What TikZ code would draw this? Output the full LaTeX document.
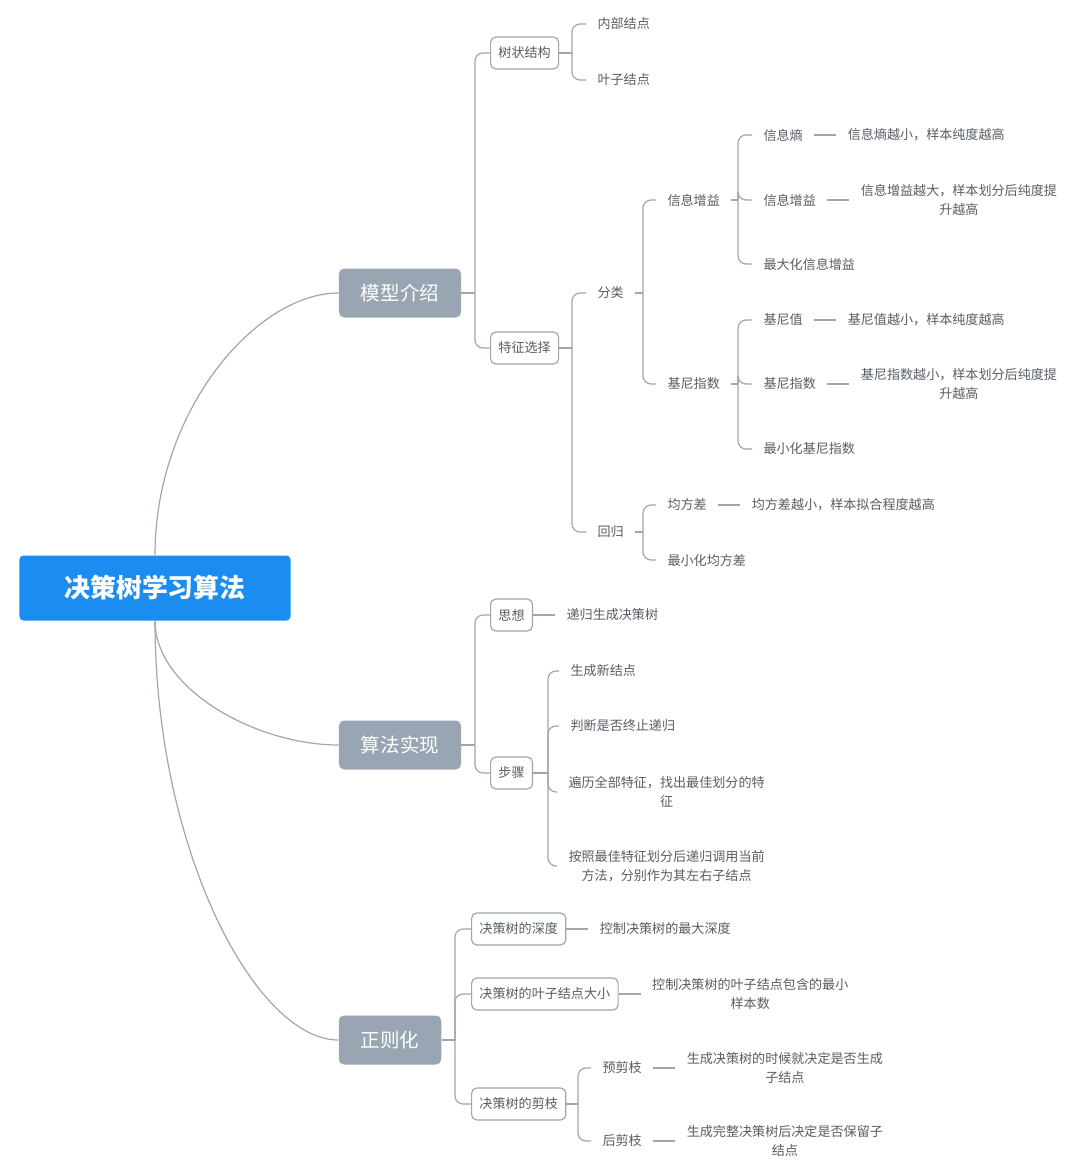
\documentclass[tikz,border=0pt]{standalone}
\usepackage{fontspec}
\setmainfont{Noto Sans CJK SC}
\usepackage{xcolor}
\usepackage{tikz}
\usetikzlibrary{positioning}
\definecolor{azul}{HTML}{1B8CF0}
\definecolor{gris}{HTML}{9AA5B4}
\definecolor{tinta}{HTML}{585D64}
\definecolor{linea}{HTML}{A0A6AF}

\begin{document}
\begin{tikzpicture}[
  x=0.25mm, y=-0.25mm,
  font=\fontsize{9.3}{13.6}\selectfont, text=tinta,
  link/.style={draw=linea, line width=0.85pt, rounded corners=2mm},
  raiz/.style={fill=azul, rounded corners=1mm, text=white, minimum width=67.75mm, minimum height=16.25mm, font=\fontsize{18.4}{22}\selectfont\bfseries},
  rama/.style={fill=gris, rounded corners=1.3mm, text=white, inner xsep=15.6pt, minimum height=12.25mm, font=\fontsize{13.9}{16}\selectfont},
  caja/.style={anchor=west, draw=linea, line width=0.85pt, fill=white, rounded corners=1.3mm, inner xsep=5.6pt, minimum height=8mm},
  hoja/.style={anchor=west, inner xsep=8pt},
  nota/.style={inner xsep=8pt, align=center},
  node distance=5.5mm]
  \fill[white] (0,0) rectangle (1080,1174);
  \useasboundingbox (0,0) rectangle (1080,1174);

  \node[raiz] (root) at (155,588) {决策树学习算法};
  \node[rama] (m1) at (400,293) {模型介绍};
  \node[rama] (m2) at (400,745) {算法实现};
  \node[rama] (m3) at (390,1040) {正则化};
  \draw[link] (root.north) .. controls (155,411) and (256,293) .. (m1.west);
  \draw[link] (root.south) .. controls (155,689) and (256,745) .. (m2.west);
  \draw[link] (root.south) .. controls (155,851) and (256,1040) .. (m3.west);

  % modelo
  \node[caja] (b1) at (490,53) {树状结构};
  \node[caja] (b2) at (490,348) {特征选择};
  \coordinate (m1f) at (475,293);
  \draw[link] (m1.east) -- (m1f);
  \foreach \c in {b1,b2} \draw[link] (m1f) |- (\c.west);

  \node[hoja] (a1) at (586,24) {内部结点};
  \node[hoja] (a2) at (586,80) {叶子结点};
  \coordinate (b1f) at (572,53);
  \draw[link] (b1.east) -- (b1f);
  \foreach \c in {a1,a2} \draw[link] (b1f) |- (\c.west);

  \node[hoja] (c1) at (586,293) {分类};
  \node[hoja] (c2) at (586,532) {回归};
  \coordinate (b2f) at (572,348);
  \draw[link] (b2.east) -- (b2f);
  \foreach \c in {c1,c2} \draw[link] (b2f) |- (\c.west);

  \node[hoja] (g1) at (656,200) {信息增益};
  \node[hoja] (g2) at (656,384) {基尼指数};
  \coordinate (c1f) at (643,293);
  \draw[link] (c1.east) -- (c1f);
  \foreach \c in {g1,g2} \draw[link] (c1f) |- (\c.west);

  \node[hoja] (h1) at (752,135) {信息熵};
  \node[hoja] (h2) at (752,200) {信息增益};
  \node[hoja] (h3) at (752,264) {最大化信息增益};
  \coordinate (g1f) at (738,200);
  \draw[link] (g1.east) -- (g1f);
  \foreach \c in {h1,h2,h3} \draw[link] (g1f) |- (\c.west);
  \node[nota, right=of h1] (h1n) {信息熵越小，样本纯度越高};
  \node[nota, right=of h2] (h2n) {信息增益越大，样本划分后纯度提\\升越高};
  \draw[link] (h1) -- (h1n);
  \draw[link] (h2) -- (h2n);

  \node[hoja] (h4) at (752,320) {基尼值};
  \node[hoja] (h5) at (752,384) {基尼指数};
  \node[hoja] (h6) at (752,449) {最小化基尼指数};
  \coordinate (g2f) at (738,384);
  \draw[link] (g2.east) -- (g2f);
  \foreach \c in {h4,h5,h6} \draw[link] (g2f) |- (\c.west);
  \node[nota, right=of h4] (h4n) {基尼值越小，样本纯度越高};
  \node[nota, right=of h5] (h5n) {基尼指数越小，样本划分后纯度提\\升越高};
  \draw[link] (h4) -- (h4n);
  \draw[link] (h5) -- (h5n);

  \node[hoja] (h7) at (656,505) {均方差};
  \node[hoja] (h8) at (656,560) {最小化均方差};
  \coordinate (c2f) at (643,532);
  \draw[link] (c2.east) -- (c2f);
  \foreach \c in {h7,h8} \draw[link] (c2f) |- (\c.west);
  \node[nota, right=of h7] (h7n) {均方差越小，样本拟合程度越高};
  \draw[link] (h7) -- (h7n);

  % algoritmo
  \node[caja] (s1) at (490,615) {思想};
  \node[caja] (s2) at (490,773) {步骤};
  \coordinate (m2f) at (475,745);
  \draw[link] (m2.east) -- (m2f);
  \foreach \c in {s1,s2} \draw[link] (m2f) |- (\c.west);
  \node[nota, right=of s1] (s1n) {递归生成决策树};
  \draw[link] (s1) -- (s1n);

  \node[hoja] (t1) at (559,671) {生成新结点};
  \node[hoja] (t2) at (559,726) {判断是否终止递归};
  \node[hoja, align=center] (t3) at (557,792) {遍历全部特征，找出最佳划分的特\\征};
  \node[hoja, align=center] (t4) at (557,866) {按照最佳特征划分后递归调用当前\\方法，分别作为其左右子结点};
  \coordinate (s2f) at (548,773);
  \draw[link] (s2.east) -- (s2f);
  \foreach \c in {t1,t2,t3,t4} \draw[link] (s2f) |- (\c.west);

  % regularizacion
  \node[caja] (r1) at (471,929) {决策树的深度};
  \node[caja] (r2) at (471,994) {决策树的叶子结点大小};
  \node[caja] (r3) at (471,1104) {决策树的剪枝};
  \coordinate (m3f) at (455,1040);
  \draw[link] (m3.east) -- (m3f);
  \foreach \c in {r1,r2,r3} \draw[link] (m3f) |- (\c.west);
  \node[nota, right=of r1] (r1n) {控制决策树的最大深度};
  \node[nota, right=of r2] (r2n) {控制决策树的叶子结点包含的最小\\样本数};
  \draw[link] (r1) -- (r1n);
  \draw[link] (r2) -- (r2n);

  \node[hoja] (p1) at (591,1068) {预剪枝};
  \node[hoja] (p2) at (591,1141) {后剪枝};
  \coordinate (r3f) at (578,1104);
  \draw[link] (r3.east) -- (r3f);
  \foreach \c in {p1,p2} \draw[link] (r3f) |- (\c.west);
  \node[nota, right=of p1] (p1n) {生成决策树的时候就决定是否生成\\子结点};
  \node[nota, right=of p2] (p2n) {生成完整决策树后决定是否保留子\\结点};
  \draw[link] (p1) -- (p1n);
  \draw[link] (p2) -- (p2n);
\end{tikzpicture}
\end{document}
